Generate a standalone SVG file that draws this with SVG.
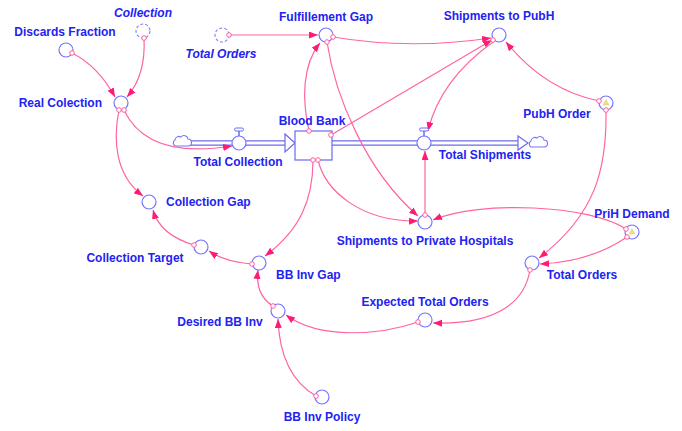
<svg xmlns="http://www.w3.org/2000/svg" width="682" height="431" viewBox="0 0 682 431">
  <defs>
    <style>
      .lbl { font-family: "Liberation Sans", Arial, sans-serif; font-size: 12px; font-weight: bold; fill: #2222f2; }
      .it { font-style: italic; }
      .var { fill: #ffffff; stroke: #7474ff; stroke-width: 1.2; }
      .ghost { fill: #ffffff; stroke: #7c7cff; stroke-width: 1.1; stroke-dasharray: 3 2; }
      .link { fill: none; stroke: #ff64a2; stroke-width: 1.2; marker-end: url(#arrow); }
      .tail { fill: #ffffff; stroke: #ff5c9d; stroke-width: 1; }
      .pipeOut { fill: none; stroke: #6a6aee; stroke-width: 5.5; }
      .pipeIn { fill: none; stroke: #ffffff; stroke-width: 3; }
      .cloud { fill: #ffffff; stroke: #7474ff; stroke-width: 1.1; }
      .warn { fill: #eee08a; stroke: #d4c060; stroke-width: 0.4; }
    </style>
    <marker id="arrow" markerUnits="userSpaceOnUse" markerWidth="10" markerHeight="8" refX="9" refY="3.5" orient="auto">
      <path d="M0,0 L9,3.5 L0,7 z" fill="#ff1a75"/>
    </marker>
  </defs>

  <rect width="682" height="431" fill="#ffffff"/>

  <!-- flow pipes -->
  <g id="flows">
    <path class="pipeOut" d="M188,143 H285"/>
    <path class="pipeIn" d="M187,143 H286"/>
    <polygon points="285,134 295,143 285,152" fill="#ffffff" stroke="#6a6aee" stroke-width="1.2"/>
    <path class="pipeOut" d="M332,143 H519"/>
    <path class="pipeIn" d="M331,143 H520"/>
    <polygon points="518,136 528,143 518,150" fill="#ffffff" stroke="#6a6aee" stroke-width="1.2"/>
    <path class="cloud" d="M175,146 a3.5,3.5 0 0 1 0,-6 a4,4 0 0 1 6,-3 a4,4 0 0 1 7,2 a3.5,3.5 0 0 1 0,7 z"/>
    <path class="cloud" d="M531,147 a3.5,3.5 0 0 1 0,-6 a4,4 0 0 1 6,-3 a4,4 0 0 1 7,2 a3.5,3.5 0 0 1 0,7 z"/>
  </g>

  <!-- connectors -->
  <g id="connectors">
    <path class="link" d="M72,53 Q98,66 115,97"/>
    <path class="link" d="M144,38 Q146,75 127,97"/>
    <path class="link" d="M124,110 C138,140 170,156 232,146"/>
    <path class="link" d="M119,110 C113,140 115,175 143,196"/>
    <path class="link" d="M229,35 L318,35"/>
    <path class="link" d="M309,131 C302,100 302,65 320,43"/>
    <path class="link" d="M333,37 Q410,50 491,38"/>
    <path class="link" d="M327,42 C335,95 365,170 418,216"/>
    <path class="link" d="M331,135 L492,40"/>
    <path class="link" d="M493,42 Q440,80 428,131"/>
    <path class="link" d="M599,101 Q545,90 506,42"/>
    <path class="link" d="M606,110 C607,170 595,215 539,258"/>
    <path class="link" d="M318,160 C325,190 360,222 418,221"/>
    <path class="link" d="M313,160 C313,200 300,230 265,256"/>
    <path class="link" d="M425,215 L425,151"/>
    <path class="link" d="M626,229 C590,205 480,200 433,220"/>
    <path class="link" d="M627,237 Q590,262 540,264"/>
    <path class="link" d="M530,270 C525,300 500,325 433,323"/>
    <path class="link" d="M418,322 C380,335 320,340 286,315"/>
    <path class="link" d="M273,306 Q255,295 258,270"/>
    <path class="link" d="M316,396 Q280,375 278,319"/>
    <path class="link" d="M252,264 Q225,262 209,251"/>
    <path class="link" d="M194,245 Q160,235 153,210"/>
  </g>

  <!-- nodes -->
  <g id="discards-fraction">
    <circle class="var" cx="66" cy="50" r="7"/>
    <circle class="tail" cx="72" cy="53" r="2.3"/>
    <text class="lbl" x="65" y="36" text-anchor="middle">Discards Fraction</text>
  </g>
  <g id="collection-ghost">
    <circle class="ghost" cx="143" cy="31" r="7"/>
    <circle class="tail" cx="144" cy="38" r="2.3"/>
    <text class="lbl it" x="143" y="17" text-anchor="middle">Collection</text>
  </g>
  <g id="real-colection">
    <circle class="var" cx="121" cy="103" r="7"/>
    <circle class="tail" cx="119" cy="110" r="2.3"/>
    <circle class="tail" cx="124" cy="110" r="2.3"/>
    <text class="lbl" x="102" y="107" text-anchor="end">Real Colection</text>
  </g>
  <g id="total-orders-ghost">
    <circle class="ghost" cx="222" cy="35" r="7"/>
    <circle class="tail" cx="229" cy="35" r="2.3"/>
    <text class="lbl it" x="221" y="58" text-anchor="middle">Total Orders</text>
  </g>
  <g id="fulfillement-gap">
    <circle class="var" cx="326" cy="35" r="7"/>
    <circle class="tail" cx="333" cy="37" r="2.3"/>
    <circle class="tail" cx="327" cy="42" r="2.3"/>
    <text class="lbl" x="326" y="21" text-anchor="middle">Fulfillement Gap</text>
  </g>
  <g id="shipments-to-pubh">
    <circle class="var" cx="499" cy="35" r="7"/>
    <circle class="tail" cx="493" cy="40" r="2.3"/>
    <text class="lbl" x="499" y="20" text-anchor="middle">Shipments to PubH</text>
  </g>
  <g id="pubh-order">
    <circle class="var" cx="606" cy="103" r="7"/>
    <polygon class="warn" points="606,99.5 603,105 609,105"/>
    <circle class="tail" cx="599" cy="101" r="2.3"/>
    <circle class="tail" cx="606" cy="110" r="2.3"/>
    <text class="lbl" x="557" y="118" text-anchor="middle">PubH Order</text>
  </g>
  <g id="total-collection">
    <rect x="234.5" y="128" width="9" height="3" rx="1.5" fill="#ffffff" stroke="#6a6aee" stroke-width="1"/>
    <line x1="239" y1="131" x2="239" y2="136" stroke="#6a6aee" stroke-width="1.5"/>
    <circle class="var" cx="239" cy="143" r="7"/>
    <text class="lbl" x="238" y="166" text-anchor="middle">Total Collection</text>
  </g>
  <g id="blood-bank">
    <rect x="295" y="131" width="37" height="29" fill="#ffffff" stroke="#6a6aee" stroke-width="1.2"/>
    <circle class="tail" cx="309" cy="131" r="2.3"/>
    <circle class="tail" cx="331" cy="135" r="2.3"/>
    <circle class="tail" cx="313" cy="160" r="2.3"/>
    <circle class="tail" cx="318" cy="160" r="2.3"/>
    <text class="lbl" x="312" y="125" text-anchor="middle">Blood Bank</text>
  </g>
  <g id="total-shipments">
    <rect x="419.5" y="128" width="9" height="3" rx="1.5" fill="#ffffff" stroke="#6a6aee" stroke-width="1"/>
    <line x1="424" y1="131" x2="424" y2="136" stroke="#6a6aee" stroke-width="1.5"/>
    <circle class="var" cx="424" cy="143" r="7"/>
    <text class="lbl" x="485" y="159" text-anchor="middle">Total Shipments</text>
  </g>
  <g id="shipments-to-private-hospitals">
    <circle class="var" cx="425" cy="222" r="7"/>
    <circle class="tail" cx="425" cy="215" r="2.3"/>
    <text class="lbl" x="425" y="245" text-anchor="middle">Shipments to Private Hospitals</text>
  </g>
  <g id="prih-demand">
    <circle class="var" cx="632" cy="232" r="7"/>
    <polygon class="warn" points="632,228.5 629,234 635,234"/>
    <circle class="tail" cx="626" cy="229" r="2.3"/>
    <circle class="tail" cx="627" cy="237" r="2.3"/>
    <text class="lbl" x="632" y="218" text-anchor="middle">PriH Demand</text>
  </g>
  <g id="total-orders">
    <circle class="var" cx="532" cy="263" r="7"/>
    <circle class="tail" cx="530" cy="270" r="2.3"/>
    <text class="lbl" x="582" y="279" text-anchor="middle">Total Orders</text>
  </g>
  <g id="collection-gap">
    <circle class="var" cx="149" cy="202" r="7"/>
    <text class="lbl" x="166" y="206">Collection Gap</text>
  </g>
  <g id="collection-target">
    <circle class="var" cx="201" cy="247" r="7"/>
    <circle class="tail" cx="194" cy="245" r="2.3"/>
    <text class="lbl" x="135" y="262" text-anchor="middle">Collection Target</text>
  </g>
  <g id="bb-inv-gap">
    <circle class="var" cx="259" cy="263" r="7"/>
    <circle class="tail" cx="252" cy="264" r="2.3"/>
    <text class="lbl" x="276" y="279">BB Inv Gap</text>
  </g>
  <g id="expected-total-orders">
    <circle class="var" cx="425" cy="320" r="7"/>
    <circle class="tail" cx="418" cy="322" r="2.3"/>
    <text class="lbl" x="425" y="306" text-anchor="middle">Expected Total Orders</text>
  </g>
  <g id="desired-bb-inv">
    <circle class="var" cx="278" cy="311" r="7"/>
    <circle class="tail" cx="273" cy="306" r="2.3"/>
    <text class="lbl" x="220" y="326" text-anchor="middle">Desired BB Inv</text>
  </g>
  <g id="bb-inv-policy">
    <circle class="var" cx="322" cy="397" r="7"/>
    <circle class="tail" cx="316" cy="396" r="2.3"/>
    <text class="lbl" x="322" y="421" text-anchor="middle">BB Inv Policy</text>
  </g>
</svg>
